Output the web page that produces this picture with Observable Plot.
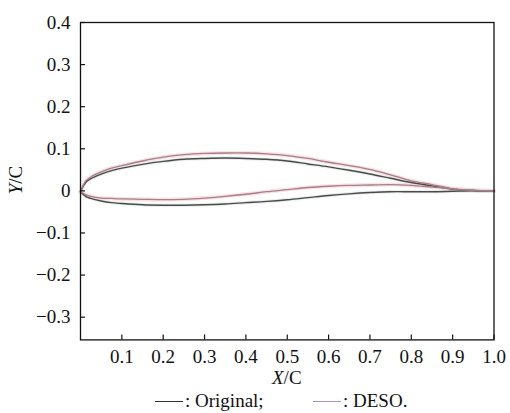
<!DOCTYPE html>
<html>
<head>
<meta charset="utf-8">
<script src="https://cdn.jsdelivr.net/npm/d3@7"></script>
<script src="https://cdn.jsdelivr.net/npm/@observablehq/plot@0.6"></script>
<style>
  html, body { margin: 0; padding: 0; background: #fff; }
  #wrap { position: relative; width: 510px; height: 413px; font-family: "Liberation Serif", "Times New Roman", serif; color: #111; }
  #wrap svg { display: block; }
  #wrap svg text { font-family: "Liberation Serif", "Times New Roman", serif !important; font-size: 19px !important; }
  .lab { position: absolute; font-size: 19px; line-height: 21px; white-space: nowrap; }
  .sw { display: inline-block; width: 28px; height: 0; border-top: 1.8px solid #333; vertical-align: middle; margin-right: 2px; position: relative; top: -1px; }
</style>
</head>
<body>
<div id="wrap"></div>
<script>
// Chordwise stations (X/C)
const xStations = [0, 0.0125, 0.025, 0.05, 0.075, 0.1, 0.15, 0.2, 0.25, 0.3, 0.35, 0.4, 0.45, 0.5, 0.55, 0.6, 0.65, 0.7, 0.75, 0.8, 0.85, 0.9, 0.95, 1.0];
// Original airfoil
const originalUpper = [-0.002, 0.020, 0.029, 0.040, 0.048, 0.054, 0.063, 0.070, 0.075, 0.077, 0.078, 0.077, 0.075, 0.071, 0.064, 0.057, 0.049, 0.040, 0.030, 0.020, 0.012, 0.004, 0.001, 0];
const originalLower = [-0.002, -0.013, -0.018, -0.024, -0.028, -0.030, -0.033, -0.034, -0.034, -0.033, -0.031, -0.028, -0.025, -0.021, -0.016, -0.011, -0.007, -0.004, -0.002, -0.002, -0.002, -0.001, 0, 0];
// DESO optimized airfoil
const desoUpper = [-0.002, 0.023, 0.033, 0.045, 0.054, 0.060, 0.071, 0.080, 0.086, 0.089, 0.090, 0.090, 0.088, 0.084, 0.077, 0.068, 0.060, 0.051, 0.038, 0.024, 0.015, 0.005, 0.001, 0];
const desoLower = [-0.002, -0.009, -0.013, -0.017, -0.018, -0.019, -0.020, -0.021, -0.020, -0.017, -0.013, -0.008, -0.002, 0.003, 0.008, 0.011, 0.013, 0.014, 0.015, 0.013, 0.009, 0.005, 0.002, 0];

const xTicks = [0.1, 0.2, 0.3, 0.4, 0.5, 0.6, 0.7, 0.8, 0.9, 1.0];
const yTicks = [-0.3, -0.2, -0.1, 0, 0.1, 0.2, 0.3, 0.4];
const seriesNames = ["Original", "DESO"];

function rows(name, ys, surface) {
  return xStations.map((x, i) => ({x, y: ys[i], series: name, surface: name + "-" + surface}));
}
const data = [
  ...rows("Original", originalUpper, "upper"),
  ...rows("Original", originalLower, "lower"),
  ...rows("DESO", desoUpper, "upper"),
  ...rows("DESO", desoLower, "lower")
];
const orig = data.filter(d => d.series === "Original");
const deso = data.filter(d => d.series === "DESO");

const fmt = d => d === 0 ? "0" : d.toFixed(1).replace("-", "\u2212");
const serif = "Liberation Serif";

const W = 510, H = 368, ML = 80, MR = 16.5, MT = 22, MB = 28.6;
const TICK = 5;

const chart = Plot.plot({
  width: W,
  height: H,
  marginLeft: ML,
  marginRight: MR,
  marginTop: MT,
  marginBottom: MB,
  style: {fontFamily: serif, fontSize: "19px", color: "#111", background: "transparent"},
  x: {domain: [0, 1]},
  y: {domain: [-0.354, 0.4]},
  marks: [
    Plot.line(deso, {x: "x", y: "y", z: "surface", curve: "catmull-rom", stroke: "#f2cfd6", strokeWidth: 4, strokeOpacity: 0.6}),
    Plot.line(orig, {x: "x", y: "y", z: "surface", curve: "catmull-rom", stroke: "#d8e4e0", strokeWidth: 3.5, strokeOpacity: 0.6}),
    Plot.line(orig, {x: "x", y: "y", z: "surface", curve: "catmull-rom", stroke: "#4a4a4a", strokeWidth: 1.4}),
    Plot.line(deso, {x: "x", y: "y", z: "surface", curve: "catmull-rom", stroke: "#a87e88", strokeWidth: 1.3}),
    // inward tick marks
    Plot.tickX(xTicks, {x: d => d, stroke: "#111", strokeWidth: 1.2, insetTop: (H - MT - MB) - TICK}),
    Plot.tickY(yTicks, {y: d => d, stroke: "#111", strokeWidth: 1.2, insetRight: (W - ML - MR) - TICK}),
    // tick labels
    Plot.axisX({ticks: xTicks, tickSize: 0, tickPadding: 10, tickFormat: d => d.toFixed(1), label: null, fill: "#111", fontFamily: serif, fontSize: 19}),
    Plot.axisY({ticks: yTicks, tickSize: 0, tickPadding: 10, tickFormat: fmt, label: null, fill: "#111", fontFamily: serif, fontSize: 19}),
    Plot.frame({stroke: "#111", strokeWidth: 1.3})
  ]
});

const wrap = document.getElementById("wrap");
wrap.appendChild(chart);

function addLabel(html, left, top, extra) {
  const d = document.createElement("div");
  d.className = "lab";
  d.innerHTML = html;
  d.style.left = left + "px";
  d.style.top = top + "px";
  if (extra) Object.assign(d.style, extra);
  wrap.appendChild(d);
  return d;
}
// X axis label
addLabel("<i>X</i>/C", 272, 367);
// Y axis label (rotated)
addLabel("<i>Y</i>/C", 15, 180, {transform: "translate(-50%, -50%) rotate(-90deg)", transformOrigin: "center"});
// Legend
addLabel('<span class="sw" style="border-top-color:#333"></span>: ' + seriesNames[0] + ';', 155, 390);
addLabel('<span class="sw" style="border-top-color:#a890b8"></span>: ' + seriesNames[1] + '.', 313, 390);
</script>
</body>
</html>
